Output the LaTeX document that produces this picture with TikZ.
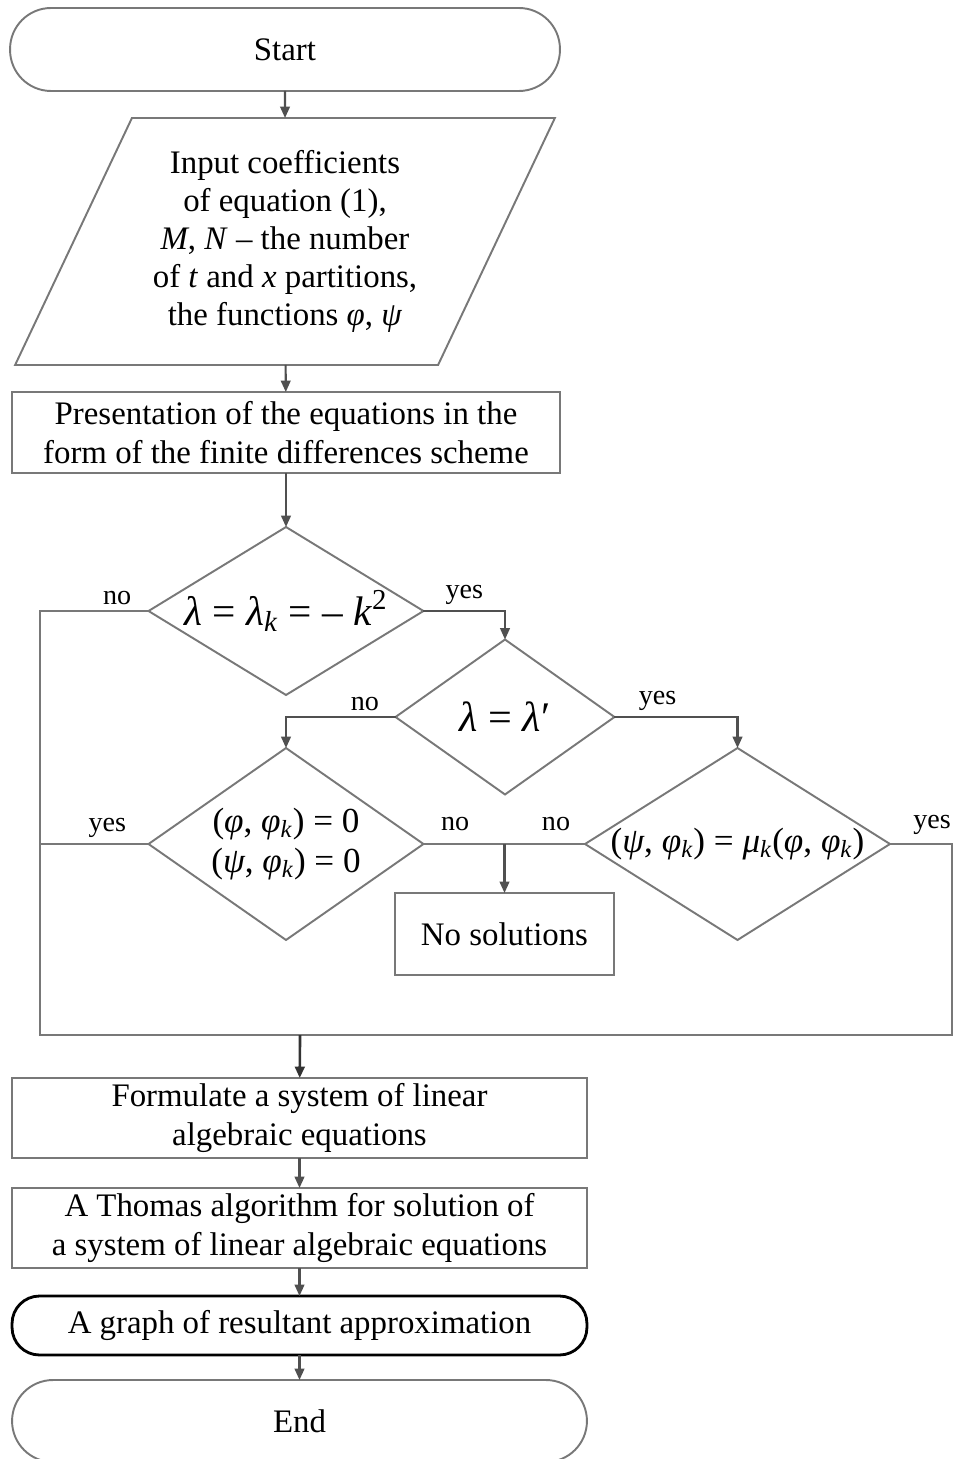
\documentclass[tikz,border=0pt]{standalone}
\usepackage{fontspec}
\setmainfont{Liberation Serif}
\usepackage{tikz}
\usetikzlibrary{arrows.meta,shapes.geometric,calc}
\definecolor{linegray}{RGB}{120,120,120}
\definecolor{arrowgray}{RGB}{80,80,80}
\newcommand{\vphi}{\textit{φ}}
\newcommand{\vpsi}{\textit{ψ}}
\newcommand{\lam}{\textit{λ}}
\newcommand{\sub}[1]{\textsubscript{\textit{#1}}}

\begin{document}
\begin{tikzpicture}[x=0.02cm, y=-0.02cm,
    box/.style={draw=linegray, line width=1.1pt, rectangle, inner sep=0pt,
      outer sep=0pt, align=center, font=\fontsize{18.7}{22.5}\selectfont},
    term/.style={box, rounded corners=0.82cm},
    dia/.style={draw=linegray, line width=1.1pt, diamond, inner sep=0pt, outer sep=0pt},
    ln/.style={draw=linegray, line width=1.1pt},
    arr/.style={draw=arrowgray, line width=1.2pt, -{Triangle[length=6.5pt,width=5.5pt]}},
    lbl/.style={font=\fontsize{16}{18}\selectfont, inner sep=3pt, above}]

  \useasboundingbox (0,0) rectangle (954,1459);

  % Upper part
  \node[term, minimum width=11cm, minimum height=1.66cm] (start) at (285,49.5) {Start};
  \node[box, trapezium, trapezium left angle=61, trapezium right angle=119,
    trapezium stretches=true, minimum width=10.8cm, minimum height=4.94cm,
    font=\fontsize{18.7}{21.6}\selectfont] (input) at (285,241.5)
    {Input coefficients\\of equation (1),\\\textit{M}, \textit{N} – the number\\
     of \textit{t} and \textit{x} partitions,\\the functions \vphi, \vpsi};
  \node[box, minimum width=10.96cm, minimum height=1.62cm] (pres) at (286,432.5)
    {Presentation of the equations in the\\form of the finite differences scheme};

  % Conditions
  \node[dia, minimum width=5.5cm, minimum height=3.36cm,
    label={[font=\fontsize{23.5}{27}\selectfont]center:\lam{} = \lam\sub{k} = – \textit{k}\textsuperscript{2}}]
    (d1) at (286,611) {};
  \node[dia, minimum width=4.38cm, minimum height=3.1cm,
    label={[font=\fontsize{24}{27}\selectfont]center:\lam{} = \lam′}]
    (d2) at (505,717) {};
  \node[dia, minimum width=5.5cm, minimum height=3.84cm,
    label={[font=\fontsize{20}{22.8}\selectfont, align=center]center:(\vphi,\ \vphi\sub{k}) = 0\\(\vpsi,\ \vphi\sub{k}) = 0}]
    (d3) at (286,844) {};
  \node[dia, minimum width=6.1cm, minimum height=3.84cm,
    label={[font=\fontsize{20}{24}\selectfont]center:(\vpsi,\ \vphi\sub{k}) = \textit{μ}\sub{k}(\vphi,\ \vphi\sub{k})}]
    (d4) at (737.5,844) {};
  \node[box, minimum width=4.38cm, minimum height=1.64cm] (nosol) at (504.5,934) {No solutions};

  % Lower part
  \node[box, minimum width=11.5cm, minimum height=1.6cm] (form) at (299.5,1118)
    {Formulate a system of linear\\algebraic equations};
  \node[box, minimum width=11.5cm, minimum height=1.6cm] (thomas) at (299.5,1228)
    {A Thomas algorithm for solution of\\a system of linear algebraic equations};
  \node[box, draw=black, line width=1.6pt, rounded corners=0.55cm,
    minimum width=11.5cm, minimum height=1.18cm] (graph) at (299.5,1325.5)
    {A graph of resultant approximation};
  \node[term, minimum width=11.5cm, minimum height=1.64cm] (end) at (299.5,1421) {End};

  % Helper points
  \coordinate (lc) at (40,1035);
  \coordinate (rc) at (952,1035);
  \coordinate (jn) at (300,1035);
  \coordinate (nj) at (nosol.north |- d3.east);

  % Connectors
  \draw[arr] (start) -- (input);
  \draw[arr] (input) -- (pres);
  \draw[arr] (pres) -- (d1);
  \draw[arr] (d1.east) -- node[lbl, pos=0.5] {yes} (d1.east -| d2.north) -- (d2.north);
  \draw[arr] (d2.west) -- node[lbl, pos=0.28] {no} (d2.west -| d3.north) -- (d3.north);
  \draw[arr] (d2.east) -- node[lbl, pos=0.35] {yes} (d2.east -| d4.north) -- (d4.north);
  \draw[ln] (d3.east) -- node[lbl, pos=0.39, yshift=4pt] {no} (nj);
  \draw[ln] (d4.west) -- node[lbl, pos=0.36, yshift=4pt] {no} (nj);
  \draw[arr] (nj) -- (nosol);

  % Loop to the lower part
  \draw[ln] (d1.west) -- node[lbl, pos=0.29] {no} (d1.west -| lc) -- (lc) -- (rc)
    -- (rc |- d4.east) -- node[lbl, pos=0.32, yshift=2pt] {yes} (d4.east);
  \draw[ln] (d3.west) -- node[lbl, pos=0.38] {yes} (d3.west -| lc);
  \draw[arr, draw=black!80, line width=1.5pt] (jn) -- (form);
  \draw[arr] (form) -- (thomas);
  \draw[arr] (thomas) -- (graph);
  \draw[arr] (graph) -- (end);

\end{tikzpicture}
\end{document}
